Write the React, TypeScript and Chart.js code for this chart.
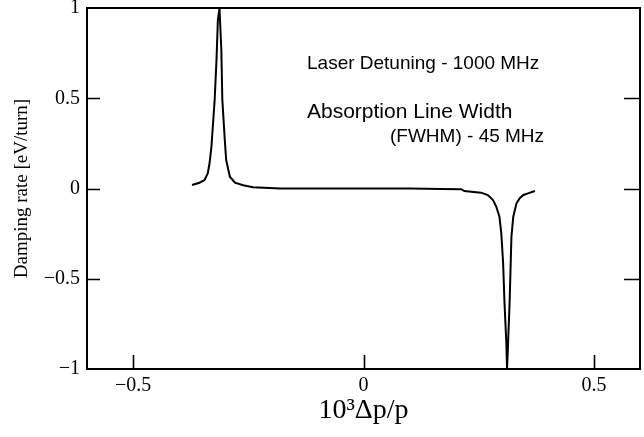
import React, { useEffect, useRef } from "react";
import { Chart, registerables } from "chart.js";

Chart.register(...registerables);

// Δp/p (×10^-3) sample positions
const xValues = [
  -0.372, -0.356, -0.345, -0.338, -0.334, -0.33, -0.327, -0.323, -0.319, -0.316,
  -0.3125, -0.3085, -0.3063, -0.301, -0.298, -0.29, -0.279, -0.261, -0.24, -0.181,
  -0.1, 0, 0.1, 0.168, 0.212, 0.219, 0.255, 0.27, 0.281, 0.288, 0.295, 0.299,
  0.303, 0.306, 0.31, 0.3115, 0.3137, 0.317, 0.319, 0.321, 0.325, 0.332, 0.339,
  0.347, 0.357, 0.372,
];
// damping rate [eV/turn]
const yValues = [
  0.019, 0.032, 0.047, 0.084, 0.141, 0.232, 0.342, 0.49, 0.712, 0.934,
  1.0, 0.767, 0.49, 0.269, 0.158, 0.065, 0.032, 0.018, 0.007, 0.0,
  0.0, 0.0, 0.0, -0.003, -0.004, -0.014, -0.023, -0.036, -0.064, -0.1, -0.156, -0.248,
  -0.414, -0.636, -0.858, -1.0, -0.858, -0.636, -0.45, -0.267, -0.156, -0.082, -0.054,
  -0.036, -0.027, -0.014,
];

const xTicks = [-0.5, 0, 0.5];
const yTicks = [-1, -0.5, 0, 0.5, 1];
const xRange = [-0.6, 0.6];
const yRange = [-1, 1];

const annotationLines = [
  "Laser Detuning - 1000 MHz",
  "Absorption Line Width",
  "(FWHM) - 45 MHz",
];
const xTitle = "10³Δp/p";
const yTitle = "Damping rate [eV/turn]";

const SERIF = '"Liberation Serif", "Times New Roman", serif';
const SANS = '"Liberation Sans", Arial, sans-serif';

function fmt(v: number): string {
  return v < 0 ? "\u2212" + String(Math.abs(v)) : String(v);
}

const framePlugin = {
  id: "frame",
  afterDatasetsDraw(chart: any) {
    const { ctx, chartArea, scales } = chart;
    const { left, right, top, bottom } = chartArea;
    const xs = scales.x;
    const ys = scales.y;
    ctx.save();
    ctx.strokeStyle = "#000";
    ctx.lineWidth = 2;
    ctx.strokeRect(left, top, right - left, bottom - top);
    ctx.lineWidth = 1.6;
    ctx.beginPath();
    for (const v of xTicks) {
      const px = Math.round(xs.getPixelForValue(v)) + 0.5;
      ctx.moveTo(px, bottom);
      ctx.lineTo(px, bottom - 14);
    }
    for (const v of yTicks) {
      if (v === yRange[0] || v === yRange[1]) continue;
      const py = Math.round(ys.getPixelForValue(v)) + 0.5;
      ctx.moveTo(left, py);
      ctx.lineTo(left + 13, py);
      ctx.moveTo(right, py);
      ctx.lineTo(right - 16, py);
    }
    ctx.stroke();

    ctx.fillStyle = "#000";
    ctx.textAlign = "left";
    ctx.textBaseline = "alphabetic";
    ctx.font = "19px " + SANS;
    ctx.fillText(annotationLines[0], 307, 69);
    ctx.font = "21px " + SANS;
    ctx.fillText(annotationLines[1], 307, 118);
    ctx.font = "19px " + SANS;
    ctx.fillText(annotationLines[2], 390, 142);
    ctx.restore();
  },
};

export default function App() {
  const ref = useRef<HTMLCanvasElement | null>(null);

  useEffect(() => {
    if (!ref.current) return;
    const points = xValues.map((x, i) => ({ x, y: yValues[i] }));
    const chart = new Chart(ref.current, {
      type: "line",
      data: {
        datasets: [
          {
            data: points,
            borderColor: "#000",
            borderWidth: 2,
            pointRadius: 0,
            tension: 0,
            fill: false,
          },
        ],
      },
      options: {
        animation: false,
        responsive: false,
        maintainAspectRatio: false,
        layout: { padding: { top: 8, right: 4, left: 0, bottom: 0 } },
        plugins: {
          legend: { display: false },
          tooltip: { enabled: false },
        },
        scales: {
          x: {
            type: "linear",
            min: xRange[0],
            max: xRange[1],
            grid: { display: false, drawTicks: false },
            border: { display: false },
            afterBuildTicks: (s: any) => {
              s.ticks = xTicks.map((v) => ({ value: v }));
            },
            afterFit: (s: any) => {
              s.height = 68;
              s.paddingLeft = 0;
              s.paddingRight = 0;
            },
            ticks: {
              color: "#000",
              padding: 5,
              maxRotation: 0,
              font: { family: SERIF, size: 20 },
              callback: (v: any) => fmt(Number(v)),
            },
            title: {
              display: true,
              text: xTitle,
              color: "#000",
              font: { family: SERIF, size: 28 },
              padding: { top: 0, bottom: 10 },
            },
          },
          y: {
            type: "linear",
            min: yRange[0],
            max: yRange[1],
            grid: { display: false, drawTicks: false },
            border: { display: false },
            afterBuildTicks: (s: any) => {
              s.ticks = yTicks.map((v) => ({ value: v }));
            },
            afterFit: (s: any) => {
              s.width = 87;
              s.paddingTop = 0;
              s.paddingBottom = 0;
            },
            ticks: {
              color: "#000",
              padding: 7,
              font: { family: SERIF, size: 20 },
              callback: (v: any) => fmt(Number(v)),
            },
            title: {
              display: true,
              text: yTitle,
              color: "#000",
              font: { family: SERIF, size: 19 },
              padding: { top: 11, bottom: 0 },
            },
          },
        },
      },
      plugins: [framePlugin],
    });
    return () => chart.destroy();
  }, []);

  return (
    <div style={{ position: "absolute", left: 0, top: 0, width: 644, height: 437, background: "#fff" }}>
      <canvas ref={ref} width={644} height={437} style={{ display: "block" }} />
    </div>
  );
}
